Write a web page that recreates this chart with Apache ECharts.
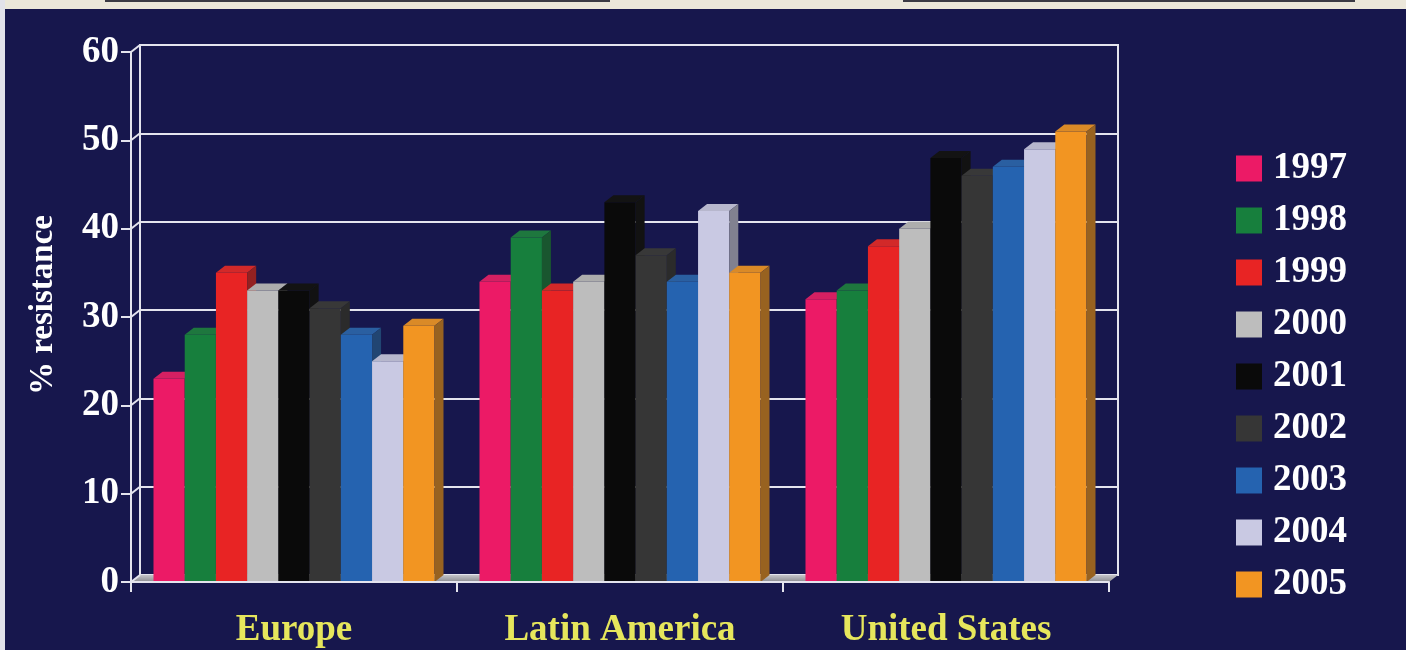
<!DOCTYPE html>
<html>
<head>
<meta charset="utf-8">
<script src="https://cdn.jsdelivr.net/npm/echarts@6/dist/echarts.min.js"></script>
<style>
  html, body { margin: 0; padding: 0; background: #17174d; }
  #chart { width: 1406px; height: 650px; }
</style>
</head>
<body>
<div id="chart"></div>
<script>
// Resistance rates by region and year (%)
const REGIONS = ['Europe', 'Latin America', 'United States'];
const YEARS = ['1997', '1998', '1999', '2000', '2001', '2002', '2003', '2004', '2005'];
const EUROPE = [23, 28, 35, 33, 33, 31, 28, 25, 29];
const LATIN_AMERICA = [34, 39, 33, 34, 43, 37, 34, 42, 35];
const UNITED_STATES = [32, 33, 38, 40, 48, 46, 47, 49, 51];
const Y_TICKS = [0, 10, 20, 30, 40, 50, 60];

const YEAR_COLORS = ['#ec1a66', '#177f3d', '#e82424', '#bdbdbd', '#0a0a0a',
                     '#363636', '#2563b0', '#c9c9e3', '#f29522'];

const SERIF = "'Liberation Serif', 'Times New Roman', serif";
const NAVY = '#17174d';
const WALL_LINE = '#e4e4ee';
const DEPTH = [9, -7];        // 3D offset from the front plane to the back wall
const GROUP_SHARE = 0.862;    // share of each category band used by the bar cluster

function shade(hex, k, add) {
  const n = parseInt(hex.slice(1), 16);
  const ch = [(n >> 16) & 255, (n >> 8) & 255, n & 255]
    .map(c => Math.max(0, Math.min(255, Math.round(c * k + add))));
  return 'rgb(' + ch.join(',') + ')';
}

// A prism-style bar: front face, top face and right side face
function barRenderer(yearIdx, color) {
  const topColor = shade(color, 0.86, 10);
  const sideColor = shade(color, 0.58, 12);
  return function (params, api) {
    const cat = api.value(0);
    const val = api.value(1);
    const base = api.coord([cat, 0]);
    const peak = api.coord([cat, val]);
    const band = api.size([1, 0])[0];
    const w = band * GROUP_SHARE / YEARS.length;
    const x0 = base[0] - w * YEARS.length / 2 + yearIdx * w;
    const x1 = x0 + w;
    const yb = base[1];
    const yt = peak[1];
    const dx = DEPTH[0], dy = DEPTH[1];
    return {
      type: 'group',
      children: [
        { type: 'rect', shape: { x: x0, y: yt, width: w, height: yb - yt },
          style: { fill: color } },
        { type: 'polygon', shape: { points: [[x0, yt], [x0 + dx, yt + dy], [x1 + dx, yt + dy], [x1, yt]] },
          style: { fill: topColor } },
        { type: 'polygon', shape: { points: [[x1, yt], [x1 + dx, yt + dy], [x1 + dx, yb + dy], [x1, yb]] },
          style: { fill: sideColor } }
      ]
    };
  };
}

const yearSeries = YEARS.map((year, i) => ({
  name: year,
  type: 'custom',
  xAxisIndex: 0,
  yAxisIndex: 0,
  z: 3,
  itemStyle: { color: YEAR_COLORS[i] },
  encode: { x: 0, y: 1 },
  data: [[0, EUROPE[i]], [1, LATIN_AMERICA[i]], [2, UNITED_STATES[i]]],
  renderItem: barRenderer(i, YEAR_COLORS[i])
}));

// Floor of the plot box
const floorSeries = {
  type: 'custom',
  xAxisIndex: 0,
  yAxisIndex: 0,
  silent: true,
  z: 2,
  data: [[0, 0]],
  renderItem: function (params) {
    const cs = params.coordSys;
    const yb = cs.y + cs.height;
    return {
      type: 'polygon',
      shape: { points: [[cs.x, yb], [cs.x + cs.width, yb],
                        [cs.x + cs.width + DEPTH[0], yb + DEPTH[1]], [cs.x + DEPTH[0], yb + DEPTH[1]]] },
      style: {
        fill: new echarts.graphic.LinearGradient(0, 0, 0, 1, [
          { offset: 0, color: '#c4c4c8' }, { offset: 1, color: '#8a8a90' }
        ])
      }
    };
  }
};

// Grid lines on the left side wall, from the front axis to the back wall
const sideWallSeries = {
  type: 'custom',
  xAxisIndex: 0,
  yAxisIndex: 0,
  silent: true,
  z: 2,
  data: Y_TICKS.map(v => [0, v]),
  renderItem: function (params, api) {
    const cs = params.coordSys;
    const y = api.coord([0, api.value(1)])[1];
    return {
      type: 'line',
      shape: { x1: cs.x, y1: y, x2: cs.x + DEPTH[0], y2: y + DEPTH[1] },
      style: { stroke: WALL_LINE, lineWidth: 2 }
    };
  }
};

const chart = echarts.init(document.getElementById('chart'), null, { renderer: 'canvas' });

chart.setOption({
  backgroundColor: NAVY,
  animation: false,
  graphic: [
    { type: 'rect', shape: { x: 0, y: 0, width: 1406, height: 9 }, style: { fill: '#ebe7da' }, z: 10 },
    { type: 'rect', shape: { x: 105, y: 0, width: 505, height: 2 }, style: { fill: '#3a3a44' }, z: 11 },
    { type: 'rect', shape: { x: 903, y: 0, width: 452, height: 2 }, style: { fill: '#3a3a44' }, z: 11 },
    { type: 'rect', shape: { x: 0, y: 0, width: 5, height: 650 }, style: { fill: '#e2e2ea' }, z: 11 }
  ],
  legend: {
    orient: 'vertical',
    left: 1231,
    top: 145,
    itemWidth: 26,
    itemHeight: 26,
    itemGap: 15,
    icon: 'rect',
    data: YEARS,
    textStyle: {
      color: '#ffffff',
      fontFamily: SERIF,
      fontWeight: 'bold',
      fontSize: 37,
      padding: [0, 0, 0, 6]
    }
  },
  grid: [
    { left: 131, right: 297, top: 52, bottom: 68 },
    { left: 140, right: 288, top: 45, bottom: 75, show: true,
      borderColor: WALL_LINE, borderWidth: 2, backgroundColor: 'transparent' }
  ],
  xAxis: [
    {
      type: 'category',
      gridIndex: 0,
      data: REGIONS,
      z: 10,
      axisLine: { show: true, lineStyle: { color: WALL_LINE, width: 2 } },
      axisTick: { show: true, length: 10, alignWithLabel: false, lineStyle: { color: WALL_LINE, width: 2 } },
      axisLabel: {
        color: '#e6e65c',
        fontFamily: SERIF,
        fontWeight: 'bold',
        fontSize: 37,
        lineHeight: 37,
        margin: 30
      },
      splitLine: { show: false }
    },
    {
      type: 'category',
      gridIndex: 1,
      data: REGIONS,
      show: false
    }
  ],
  yAxis: [
    {
      type: 'value',
      gridIndex: 0,
      min: 0,
      max: 60,
      interval: 10,
      z: 10,
      name: '% resistance',
      nameLocation: 'middle',
      nameRotate: 90,
      nameGap: 71,
      nameTextStyle: {
        color: '#ffffff',
        fontFamily: SERIF,
        fontWeight: 'bold',
        fontSize: 33,
        padding: [0, 0, 0, 24]
      },
      axisLine: { show: true, lineStyle: { color: WALL_LINE, width: 2 } },
      axisTick: { show: true, length: 10, lineStyle: { color: WALL_LINE, width: 2 } },
      axisLabel: {
        color: '#ffffff',
        fontFamily: SERIF,
        fontWeight: 'bold',
        fontSize: 37,
        margin: 12
      },
      splitLine: { show: false }
    },
    {
      type: 'value',
      gridIndex: 1,
      min: 0,
      max: 60,
      interval: 10,
      axisLine: { show: false },
      axisTick: { show: false },
      axisLabel: { show: false },
      splitLine: { show: true, lineStyle: { color: WALL_LINE, width: 2 } }
    }
  ],
  series: [floorSeries, sideWallSeries].concat(yearSeries)
});
</script>
</body>
</html>
